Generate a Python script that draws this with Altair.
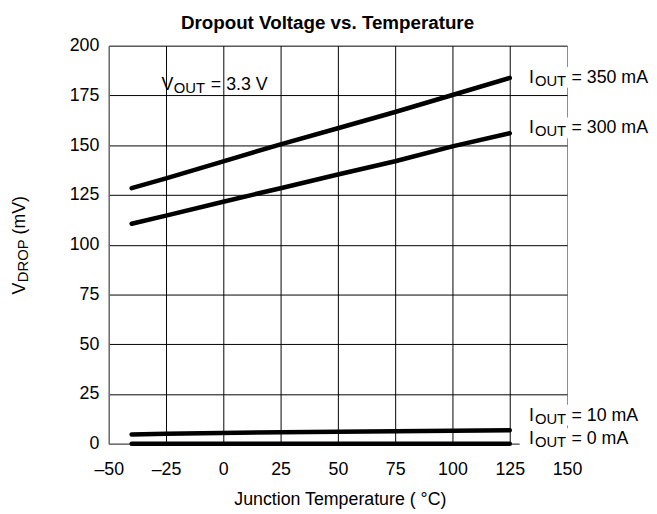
import altair as alt
import pandas as pd

# ---- data ----
temps = [-40, -25, 0, 25, 50, 75, 100, 125]
i350 = [128.4, 133.3, 141.9, 150.4, 158.5, 166.7, 175.2, 183.8]
i300 = [110.5, 114.6, 121.6, 128.4, 135.3, 141.9, 149.4, 156.0]
temps_low = [-40, -25, 25, 125]
i10 = [4.6, 5.0, 5.8, 6.8]
i0 = [0.0, 0.0, 0.0, 0.0]

series_names = ["350 mA", "300 mA", "10 mA", "0 mA"]
label_rest = ["= 350 mA", "= 300 mA", "= 10 mA", "= 0 mA"]
label_y = [181.3, 156.0, 11.6, 0.0]
label_x = 125

vout_x = -27
vout_y = 177.5

x_ticks = [-50, -25, 0, 25, 50, 75, 100, 125, 150]
y_ticks = [0, 25, 50, 75, 100, 125, 150, 175, 200]

FONT = "Liberation Sans, Arial, Helvetica, sans-serif"

rows = []
for t, v in zip(temps, i350):
    rows.append({"t": t, "v": v, "s": series_names[0]})
for t, v in zip(temps, i300):
    rows.append({"t": t, "v": v, "s": series_names[1]})
for t, v in zip(temps_low, i10):
    rows.append({"t": t, "v": v, "s": series_names[2]})
for t, v in zip(temps_low, i0):
    rows.append({"t": t, "v": v, "s": series_names[3]})
df = pd.DataFrame(rows)

lab_df = pd.DataFrame({"t": [label_x] * 4, "v": label_y, "main": ["I"] * 4,
                       "sub": ["OUT"] * 4, "rest": label_rest})
vout_df = pd.DataFrame({"t": [vout_x], "v": [vout_y]})
one = pd.DataFrame({"k": [0]})

xaxis = alt.Axis(
    values=x_ticks, grid=True, ticks=False, labelFlush=False, labelOverlap=False,
    gridColor={"condition": {"test": "datum.value === 150", "value": "#8a8a8a"}, "value": "#000000"},
    labelExpr="datum.value < 0 ? '\u2013' + abs(datum.value) : datum.label",
    labelBaseline="alphabetic", labelPadding=31,
    title="Junction Temperature ( \u00b0C)", titleX=234, titleY=62,
    titleAlign="center", titleBaseline="alphabetic",
)
yaxis = alt.Axis(values=y_ticks, grid=True, ticks=False, labelPadding=10, title=None,
                 gridColor="#000000", labelFlush=False, labelOverlap=False)

X = alt.X("t:Q", scale=alt.Scale(domain=[-50, 150], nice=False), axis=xaxis)
Y = alt.Y("v:Q", scale=alt.Scale(domain=[0, 200], nice=False), axis=yaxis)

lines = alt.Chart(df).mark_line(color="black", strokeWidth=4.6, strokeCap="round").encode(
    x=X, y=Y, detail="s:N"
)

boxes = alt.Chart(lab_df).mark_rect(
    color="white", xOffset=10, x2Offset=90, yOffset=5, y2Offset=-16
).encode(x=X, x2=alt.X2("t:Q"), y=Y, y2=alt.Y2("v:Q"))

t_main = alt.Chart(lab_df).mark_text(
    align="left", baseline="alphabetic", dx=19.5, fontSize=18, font=FONT, color="black"
).encode(x=X, y=Y, text="main:N")
t_sub = alt.Chart(lab_df).mark_text(
    align="left", baseline="alphabetic", dx=25.5, dy=3, fontSize=15, font=FONT, color="black"
).encode(x=X, y=Y, text="sub:N")
t_rest = alt.Chart(lab_df).mark_text(
    align="left", baseline="alphabetic", dx=62.5, fontSize=18, font=FONT, color="black"
).encode(x=X, y=Y, text="rest:N")

v_main = alt.Chart(vout_df).mark_text(
    align="left", baseline="alphabetic", dx=0, fontSize=18, font=FONT, color="black", text="V"
).encode(x=X, y=Y)
v_sub = alt.Chart(vout_df).mark_text(
    align="left", baseline="alphabetic", dx=12.5, dy=3, fontSize=15, font=FONT, color="black", text="OUT"
).encode(x=X, y=Y)
v_rest = alt.Chart(vout_df).mark_text(
    align="left", baseline="alphabetic", dx=50, fontSize=18, font=FONT, color="black", text="= 3.3 V"
).encode(x=X, y=Y)

yt1 = alt.Chart(one).mark_text(
    align="left", baseline="alphabetic", angle=270, fontSize=18, font=FONT, color="black", text="V"
).encode(x=alt.value(-85), y=alt.value(252))
yt2 = alt.Chart(one).mark_text(
    align="left", baseline="alphabetic", angle=270, dx=12.5, dy=3, fontSize=15, font=FONT,
    color="black", text="DROP"
).encode(x=alt.value(-85), y=alt.value(252))
yt3 = alt.Chart(one).mark_text(
    align="left", baseline="alphabetic", angle=270, dx=60.8, fontSize=18, font=FONT,
    color="black", text="(mV)"
).encode(x=alt.value(-85), y=alt.value(252))

title = alt.Chart(one).mark_text(
    align="center", baseline="alphabetic", fontSize=19, fontWeight="bold", font=FONT,
    color="black", text="Dropout Voltage vs. Temperature"
).encode(x=alt.value(221.5), y=alt.value(-16.5))

chart = alt.layer(
    lines, boxes, t_main, t_sub, t_rest, v_main, v_sub, v_rest, yt1, yt2, yt3, title
).properties(
    width=464, height=403,
    autosize=alt.AutoSizeParams(type="none"),
    padding={"left": 102, "top": 35, "right": 83, "bottom": 66},
).configure_view(stroke=None).configure_axis(
    domainColor="#808080", domainWidth=1, gridWidth=1, gridColor="#000000", gridOpacity=1,
    labelFont=FONT, labelFontSize=18, labelColor="black",
    titleFont=FONT, titleFontSize=18, titleFontWeight="normal", titleColor="black",
)

chart.save("out.html", embed_options={"renderer": "svg", "actions": False})
